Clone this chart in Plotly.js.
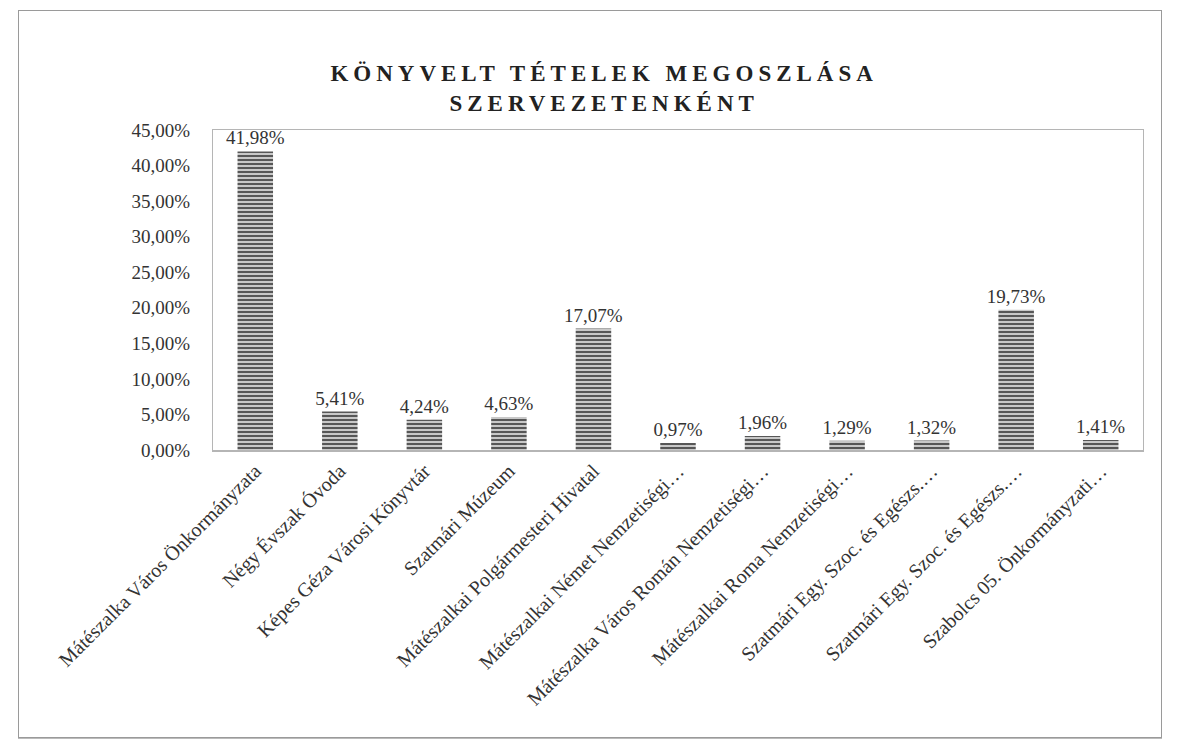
<!DOCTYPE html>
<html>
<head>
<meta charset="utf-8">
<script src="https://cdn.plot.ly/plotly-3.0.1.min.js"></script>
<style>
  html, body { margin: 0; padding: 0; background: #fff; }
  #chart { width: 1180px; height: 755px; }
  #frame { position: absolute; left: 18px; top: 10px; width: 1142px; height: 726px;
           border: 1px solid #9a9a9a; pointer-events: none; box-shadow: 0 1px 0 #bbb; }
  .gtitle { letter-spacing: 5px; }
</style>
</head>
<body>
<div id="chart"></div>
<div id="frame"></div>
<script>
const categories = [
  "Mátészalka Város Önkormányzata",
  "Négy Évszak Óvoda",
  "Képes Géza Városi Könyvtár",
  "Szatmári Múzeum",
  "Mátészalkai Polgármesteri Hivatal",
  "Mátészalkai Német Nemzetiségi…",
  "Mátészalka Város Román Nemzetiségi…",
  "Mátészalkai Roma Nemzetiségi…",
  "Szatmári Egy. Szoc. és Egészs.…",
  "Szatmári Egy. Szoc. és Egészs.…",
  "Szabolcs 05. Önkormányzati…"
];
const shares = [0.4198, 0.0541, 0.0424, 0.0463, 0.1707, 0.0097, 0.0196, 0.0129, 0.0132, 0.1973, 0.0141];
const positions = categories.map((c, i) => i);
const yTicks = [0, 0.05, 0.10, 0.15, 0.20, 0.25, 0.30, 0.35, 0.40, 0.45];

const serif = "Liberation Serif, Times New Roman, serif";

const trace = {
  type: "bar",
  x: positions,
  y: shares,
  text: shares.map(v => (v * 100).toFixed(2).replace(".", ",") + "%"),
  textposition: "outside",
  constraintext: "none",
  textfont: { family: serif, size: 19, color: "#333" },
  cliponaxis: false,
  marker: {
    color: "#9a9a9a",
    pattern: { shape: "-", fgcolor: "#4a4a4a", bgcolor: "#c8c8c8", size: 4, solidity: 0.45 },
    line: { width: 0 }
  },
  hoverinfo: "skip"
};

const layout = {
  width: 1180,
  height: 755,
  margin: { l: 213, r: 37, t: 130, b: 305 },
  paper_bgcolor: "#ffffff",
  plot_bgcolor: "#ffffff",
  separators: ",.",
  bargap: 0.58,
  showlegend: false,
  title: {
    text: "<b>KÖNYVELT TÉTELEK MEGOSZLÁSA<br>SZERVEZETENKÉNT</b>",
    font: { family: serif, size: 23, color: "#222" },
    x: 0.512, xanchor: "center",
    y: 0.893, yanchor: "middle"
  },
  xaxis: {
    tickmode: "array",
    tickvals: positions,
    ticktext: categories,
    range: [-0.5, categories.length - 0.5],
    tickangle: -45,
    tickfont: { family: serif, size: 20, color: "#333" },
    showgrid: false,
    zeroline: false,
    showline: true,
    mirror: true,
    linecolor: "#b5b5b5",
    linewidth: 1.5,
    ticks: ""
  },
  yaxis: {
    range: [0, 0.45],
    tickmode: "array",
    tickvals: yTicks,
    tickformat: ".2%",
    tickfont: { family: serif, size: 19, color: "#333" },
    ticklabelstandoff: 18,
    showgrid: false,
    zeroline: false,
    showline: true,
    mirror: true,
    linecolor: "#b5b5b5",
    linewidth: 1.2,
    ticks: ""
  }
};

Plotly.newPlot("chart", [trace], layout, { displayModeBar: false, staticPlot: true });
</script>
</body>
</html>
